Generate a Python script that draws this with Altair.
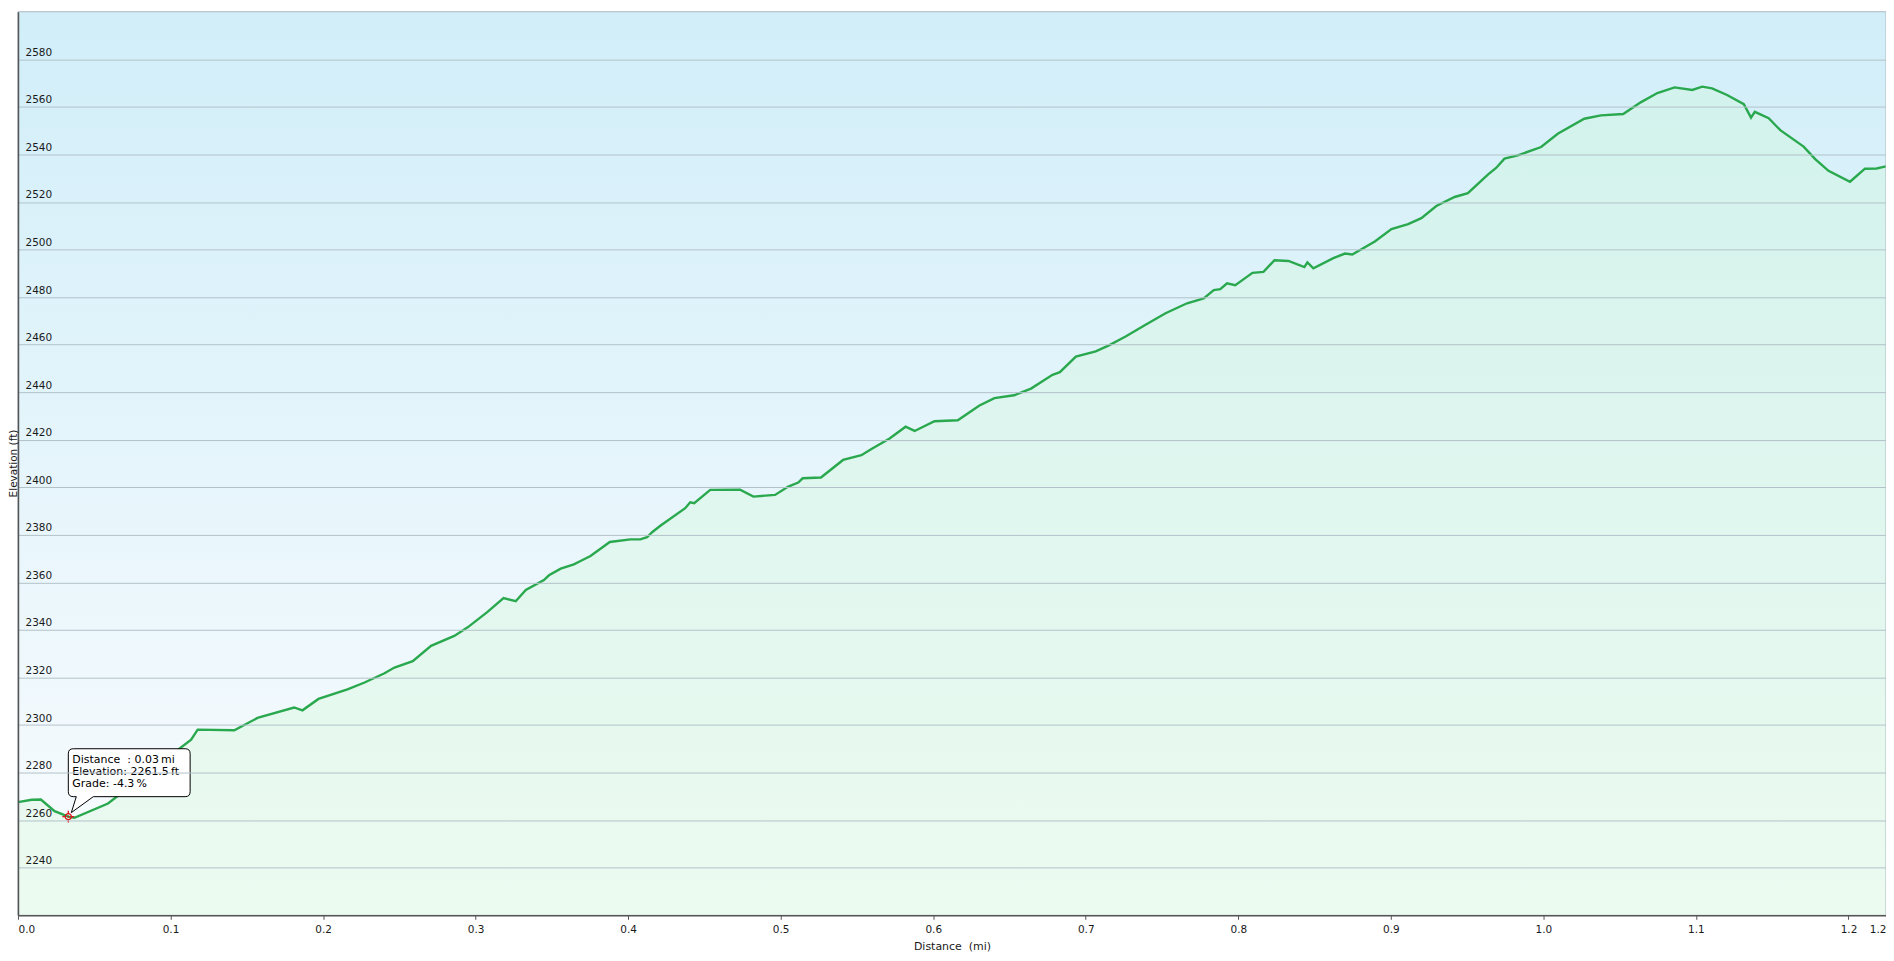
import altair as alt
import pandas as pd

# ---------------- data ----------------
distance_mi = [
    0.000, 0.009, 0.015, 0.024, 0.033, 0.037, 0.059, 0.1135, 0.1178, 0.1418,
    0.157, 0.181, 0.1865, 0.197, 0.216, 0.2272, 0.2403, 0.2468, 0.2588, 0.2708,
    0.286, 0.2948, 0.3078, 0.3183, 0.3263, 0.3329, 0.3448, 0.3481, 0.3558, 0.3644,
    0.3688, 0.3753, 0.388, 0.4015, 0.408, 0.4124, 0.4157, 0.4211, 0.4374, 0.4407,
    0.4433, 0.4538, 0.4734, 0.4821, 0.4963, 0.505, 0.5115, 0.5144, 0.5264, 0.5409,
    0.5529, 0.5595, 0.5714, 0.5819, 0.5878, 0.6008, 0.6161, 0.6303, 0.6401, 0.653,
    0.6641, 0.6782, 0.683, 0.6935, 0.7065, 0.7152, 0.7261, 0.7392, 0.7523, 0.7664,
    0.7773, 0.7839, 0.7882, 0.7926, 0.798, 0.8056, 0.8093, 0.8165, 0.8237, 0.8329,
    0.8433, 0.8453, 0.8492, 0.8623, 0.8699, 0.8747, 0.8895, 0.9004, 0.9113, 0.92,
    0.9298, 0.9418, 0.9505, 0.9636, 0.969, 0.9745, 0.9832, 0.9985, 1.0094, 1.0268,
    1.0377, 1.0523, 1.0638, 1.0747, 1.086, 1.0976, 1.1041, 1.1106, 1.1204, 1.1314,
    1.1361, 1.1386, 1.1477, 1.1553, 1.1706, 1.1782, 1.1869, 1.201, 1.2108, 1.2185,
    1.2246,
]
elevation_ft = [
    2267.6, 2268.6, 2268.7, 2263.8, 2261.5, 2261.0, 2267.0, 2293.9, 2298.1, 2297.8,
    2303.0, 2307.4, 2306.2, 2311.0, 2315.0, 2317.9, 2321.8, 2324.2, 2326.9, 2333.3,
    2337.5, 2341.1, 2347.6, 2353.4, 2352.1, 2356.8, 2361.0, 2363.0, 2365.8, 2367.6,
    2369.0, 2371.1, 2377.0, 2378.1, 2378.1, 2379.0, 2381.1, 2383.8, 2391.2, 2393.7,
    2393.3, 2398.9, 2399.0, 2396.1, 2396.8, 2400.3, 2402.0, 2403.8, 2404.1, 2411.5,
    2413.5, 2416.1, 2420.5, 2425.5, 2423.7, 2427.8, 2428.2, 2434.4, 2437.5, 2438.7,
    2441.5, 2447.3, 2448.4, 2455.0, 2457.2, 2459.7, 2463.4, 2468.4, 2473.2, 2477.4,
    2479.4, 2482.9, 2483.3, 2485.8, 2485.0, 2488.5, 2490.2, 2490.6, 2495.5, 2495.2,
    2492.6, 2494.6, 2492.1, 2496.4, 2498.3, 2497.9, 2503.4, 2508.6, 2510.7, 2513.2,
    2518.3, 2522.1, 2523.7, 2531.5, 2534.3, 2538.2, 2539.6, 2543.1, 2548.7, 2555.0,
    2556.4, 2557.0, 2561.9, 2565.8, 2568.2, 2567.1, 2568.5, 2567.8, 2565.0, 2561.1,
    2555.5, 2557.9, 2555.2, 2550.2, 2543.3, 2538.0, 2533.1, 2528.5, 2534.0, 2534.1,
    2535.0,
]

y_tick_values = [2240, 2260, 2280, 2300, 2320, 2340, 2360, 2380, 2400, 2420,
                 2440, 2460, 2480, 2500, 2520, 2540, 2560, 2580]
x_tick_values = [0.0, 0.1, 0.2, 0.3, 0.4, 0.5, 0.6, 0.7, 0.8, 0.9, 1.0, 1.1, 1.2, 1.2246]
y_domain = [2220, 2600]

tooltip_index = 4
tooltip_lines = ["Distance\u00a0 : 0.03\u2009mi", "Elevation: 2261.5\u2009ft", "Grade: -4.3\u2009%"]

FONT = "DejaVu Sans"
x_max = distance_mi[-1]

profile = pd.DataFrame({"distance": distance_mi, "elevation": elevation_ft})
frame = pd.DataFrame({"distance": [0.0], "distance_end": [x_max],
                      "elevation": [y_domain[1]], "elevation_low": [y_domain[0]]})
tip = pd.DataFrame({"distance": [distance_mi[tooltip_index]],
                    "elevation": [elevation_ft[tooltip_index]]})

x_enc = alt.X(
    "distance:Q",
    scale=alt.Scale(domain=[0.0, x_max], nice=False, zero=False),
    axis=alt.Axis(
        values=x_tick_values, labelExpr="format(datum.value, '.1f')",
        title="Distance \u00a0(mi)", grid=False, labelFlush=True, labelOverlap=False,
        tickSize=4, tickColor="#555555", domainColor="#555555", domainWidth=1.5,
        labelPadding=5, labelFontSize=10.5, labelFont=FONT, labelColor="#1a1a1a",
        titleFont=FONT, titleFontSize=11, titleFontWeight="normal", titleColor="#1a1a1a",
        titleY=34, titleBaseline="alphabetic", zindex=1,
    ),
)
y_enc = alt.Y(
    "elevation:Q",
    scale=alt.Scale(domain=y_domain, nice=False, zero=False),
    axis=alt.Axis(
        values=y_tick_values, format="d", title="Elevation (ft)", ticks=False,
        labelAlign="left", labelPadding=-7, labelBaseline="alphabetic", labelOffset=-4,
        labelFontSize=10.5, labelFont=FONT, labelColor="#1a1a1a",
        domainColor="#555555", domainWidth=1.5,
        grid=True, gridColor="#b3c2c9", gridWidth=1,
        titleFont=FONT, titleFontSize=10.5, titleFontWeight="normal", titleColor="#1a1a1a",
        titleX=-1, titleY=452, titleBaseline="alphabetic", zindex=1,
    ),
)

bg = alt.Chart(frame).mark_rect(
    fill=alt.LinearGradient(
        gradient="linear", x1=0, x2=0, y1=0, y2=1,
        stops=[alt.GradientStop(color="#d1eef9", offset=0),
               alt.GradientStop(color="#fafcfe", offset=1)],
    )
).encode(x=x_enc, x2="distance_end:Q", y=y_enc, y2="elevation_low:Q")

area = alt.Chart(profile).mark_area(color="#cff9d4", opacity=0.32).encode(
    x=x_enc, y=y_enc, y2=alt.datum(y_domain[0])
)
line = alt.Chart(profile).mark_line(color="#2aa84e", strokeWidth=2.4).encode(x=x_enc, y=y_enc)

CALLOUT = ("M5,-20 L8,-20 L3,-4 L25,-20 L117,-20 Q122,-20 122,-25 L122,-63 "
           "Q122,-68 117,-68 L5,-68 Q0,-68 0,-63 L0,-25 Q0,-20 5,-20 Z")
callout = alt.Chart(tip).mark_point(
    shape=CALLOUT, size=4, filled=True, fill="#ffffff", stroke="#000000",
    strokeWidth=1, opacity=1, fillOpacity=1, strokeOpacity=1,
).encode(x=x_enc, y=y_enc)

texts = [
    alt.Chart(tip).mark_text(
        align="left", baseline="alphabetic", dx=4, dy=-54 + 12.4 * i,
        fontSize=11, font=FONT, color="#000000",
    ).encode(x=x_enc, y=y_enc, text=alt.value(t))
    for i, t in enumerate(tooltip_lines)
]

RED = "#e0161d"
ring = alt.Chart(tip).mark_point(shape="circle", size=38, filled=False, stroke=RED,
                                 strokeWidth=1.3, opacity=1).encode(x=x_enc, y=y_enc)
cross = alt.Chart(tip).mark_point(
    shape="M-6,0 L-2.5,0 M2.5,0 L6,0 M0,-6 L0,-2.5 M0,2.5 L0,6", size=4,
    filled=False, stroke=RED, strokeWidth=1.3, opacity=1,
).encode(x=x_enc, y=y_enc)
dot = alt.Chart(tip).mark_point(shape="circle", size=4, filled=True, color=RED,
                                opacity=1).encode(x=x_enc, y=y_enc)

border = alt.Chart(frame).mark_rect(fillOpacity=0, stroke="#aab9c2", strokeWidth=1).encode(
    x=x_enc, x2="distance_end:Q", y=y_enc, y2="elevation_low:Q"
)

chart = (
    alt.layer(bg, area, line, callout, *texts, ring, cross, dot, border)
    .properties(
        width=1871, height=905,
        autosize=alt.AutoSizeParams(type="none"),
        padding={"left": 10, "top": 3, "right": 0, "bottom": 37},
        background="#ffffff",
    )
    .configure_view(strokeWidth=0)
)

chart.save("out.html", embed_options={"renderer": "svg", "actions": False})
